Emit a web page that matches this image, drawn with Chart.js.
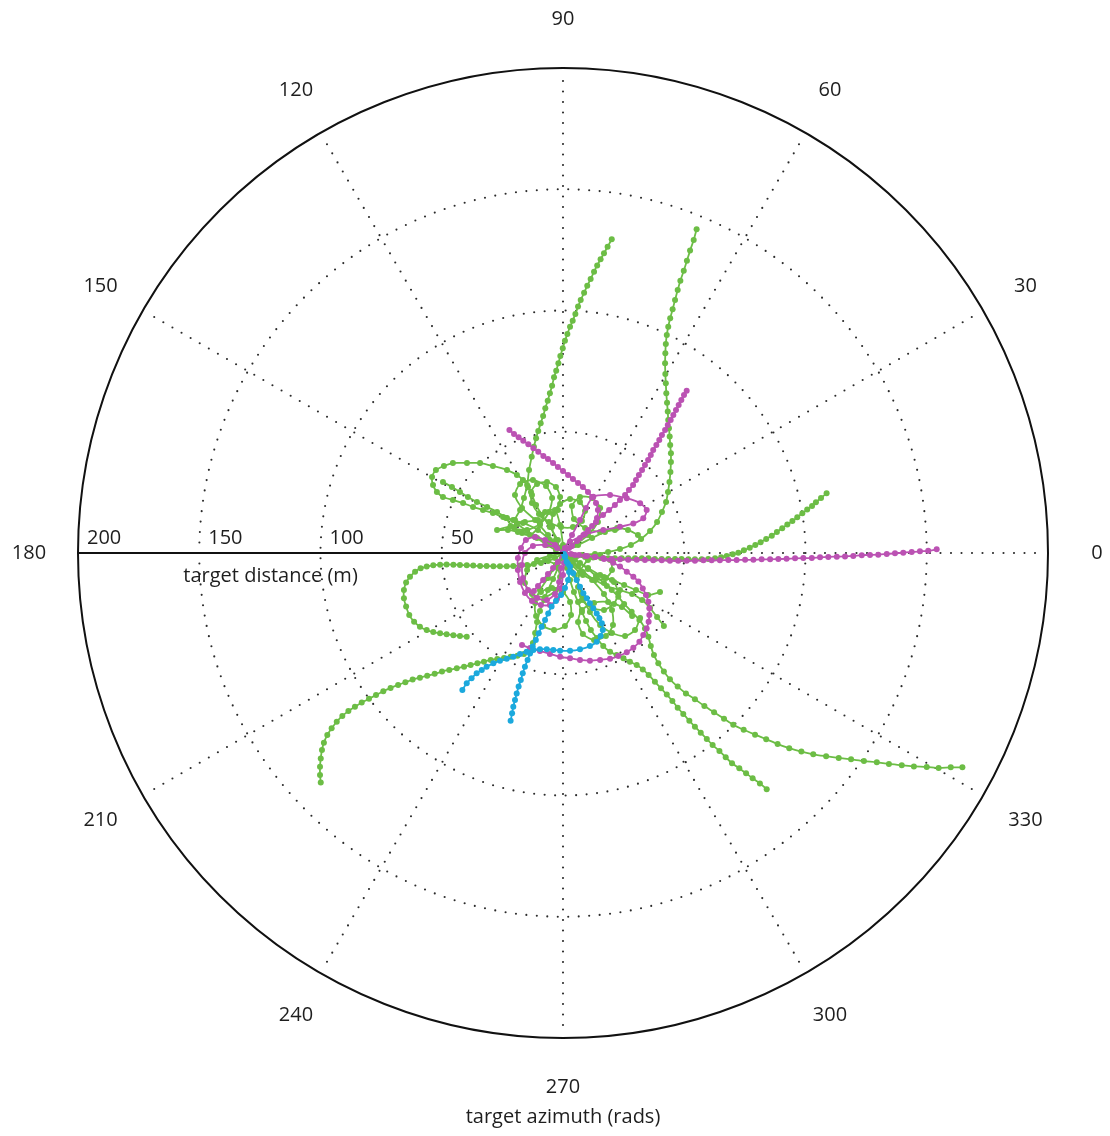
<!DOCTYPE html>
<html>
<head>
<meta charset="utf-8">
<script src="https://cdn.jsdelivr.net/npm/chart.js@4.4.1/dist/chart.umd.min.js"></script>
<style>
  html, body { margin: 0; padding: 0; background: #ffffff; }
  #wrap { width: 1110px; height: 1136px; }
</style>
</head>
<body>
<div id="wrap"><canvas id="polar" width="1110" height="1136"></canvas></div>
<script>
// Polar grid definition
const azimuthTicks = [0, 30, 60, 90, 120, 150, 180, 210, 240, 270, 300, 330];
const distanceTicks = [50, 100, 150, 200];
const maxDistance = 200;

// Tracks relative to the target: [east (m), north (m)]
const green1 = [[20.1,129.4],[18.4,126.3],[16.9,123.6],[15.5,121.1],[14.1,118.6],[12.8,116.0],[11.4,113.0],[10.0,110.2],[8.7,107.3],[7.3,104.3],[6.2,101.6],[5.1,98.6],[4.0,95.8],[2.9,93.3],[1.8,90.3],[0.8,87.5],[-0.1,84.4],[-1.1,81.2],[-1.9,78.2],[-2.8,75.2],[-3.7,72.5],[-4.5,69.0],[-5.4,65.9],[-6.3,62.8],[-7.3,59.7],[-8.2,56.5],[-9.2,53.5],[-10.2,50.3],[-11.1,47.3],[-12.0,43.8],[-12.9,39.7],[-14.0,34.2],[-14.8,28.0],[-16.1,22.7],[-17.7,17.7],[-19.8,13.6],[-18.6,8.7],[-13.6,7.4],[-9.5,11.5],[-7.4,16.9],[-3.3,17.7],[-1.2,11.5],[0.0,3.3]];
const green2 = [[55.1,133.5],[53.9,129.1],[52.4,124.7],[51.1,120.5],[49.8,116.4],[48.4,112.3],[47.3,108.5],[46.2,104.3],[45.2,100.5],[44.2,96.8],[43.4,93.3],[42.8,89.9],[42.4,86.2],[42.2,82.4],[42.1,78.2],[42.2,73.8],[42.4,70.0],[42.6,65.9],[42.9,62.0],[43.2,58.3],[43.4,54.8],[43.7,51.4],[44.0,48.0],[44.2,44.5],[44.5,41.1],[44.5,37.5],[44.3,33.4],[43.9,29.3],[43.3,25.2],[42.5,21.0],[40.8,16.9],[38.8,12.8],[35.9,9.1],[32.2,5.8],[28.0,3.3],[23.5,1.6],[18.6,0.4],[13.2,-0.4],[7.8,-0.8],[2.9,-0.8]];
const green3 = [[108.7,24.6],[106.4,22.7],[104.3,20.9],[102.7,19.4],[100.7,17.9],[98.7,16.4],[96.6,14.7],[94.6,13.2],[92.5,11.8],[90.4,10.2],[88.2,8.7],[86.1,7.1],[83.8,5.8],[81.5,4.4],[79.3,3.3],[77.0,2.2],[74.6,1.1],[72.3,0.1],[70.0,-0.5],[67.5,-1.2],[65.2,-1.8],[62.7,-2.2],[59.9,-2.5],[57.2,-2.6],[54.4,-2.6],[51.7,-2.6],[48.9,-2.5],[46.2,-2.5],[43.4,-2.5],[40.7,-2.5],[37.9,-2.5],[35.2,-2.2],[32.5,-2.2],[29.7,-2.2],[26.9,-2.2],[24.2,-2.2],[21.4,-2.2],[18.7,-2.2],[15.7,-2.1],[12.4,-1.9],[9.1,-1.6],[5.8,-1.2],[2.5,-0.8]];
const green4 = [[164.7,-88.4],[159.9,-88.4],[154.9,-88.7],[150.0,-88.2],[144.7,-88.0],[139.7,-87.5],[134.4,-87.0],[129.4,-86.3],[124.1,-85.8],[118.8,-85.1],[113.7,-84.5],[108.5,-83.8],[103.2,-83.0],[98.3,-81.9],[93.3,-80.5],[88.5,-78.8],[83.8,-76.8],[79.2,-74.9],[74.5,-72.9],[70.2,-70.8],[66.4,-68.3],[62.3,-65.7],[58.3,-63.1],[54.4,-60.3],[50.7,-57.9],[47.3,-55.1],[44.1,-52.1],[41.6,-48.9],[39.3,-45.5],[37.5,-42.1],[36.2,-38.4],[35.2,-34.5],[33.8,-31.1],[31.5,-27.6],[28.3,-24.2],[25.2,-21.0],[22.8,-18.0],[20.1,-15.3],[16.9,-12.4],[13.6,-9.5],[10.3,-6.6],[7.0,-4.1],[3.7,-2.1],[0.8,-0.4]];
const green5 = [[84.0,-97.4],[81.2,-95.0],[78.2,-92.9],[75.5,-90.8],[72.7,-88.8],[69.7,-86.7],[67.1,-84.2],[64.5,-81.6],[61.7,-79.2],[59.3,-76.7],[56.8,-74.1],[54.4,-71.6],[52.1,-69.2],[49.6,-66.4],[47.3,-63.8],[45.1,-61.0],[42.8,-58.4],[40.4,-55.8],[37.9,-53.1],[35.3,-50.3],[32.9,-48.0],[30.4,-46.2],[27.6,-44.8],[24.9,-43.4],[22.1,-42.1],[19.4,-40.7],[16.6,-38.4],[14.0,-35.1],[11.5,-31.8],[9.5,-28.0],[7.8,-24.3],[6.2,-20.2],[4.5,-16.1],[2.9,-11.1],[1.6,-6.2],[0.4,-1.6]];
const green6 = [[-99.9,-94.6],[-100.2,-91.5],[-100.2,-88.1],[-99.9,-84.7],[-99.4,-81.2],[-98.6,-78.2],[-97.2,-75.1],[-95.4,-72.3],[-93.3,-69.6],[-91.0,-67.2],[-88.5,-65.2],[-85.8,-63.4],[-83.0,-61.7],[-80.0,-60.1],[-77.1,-58.6],[-74.1,-57.0],[-71.1,-55.7],[-68.0,-54.4],[-65.0,-53.3],[-62.0,-52.2],[-59.0,-51.4],[-56.0,-50.6],[-52.9,-49.8],[-49.9,-48.9],[-46.9,-48.2],[-43.8,-47.5],[-40.8,-46.9],[-38.1,-46.2],[-35.3,-45.5],[-32.6,-44.8],[-29.8,-44.1],[-27.1,-43.7],[-24.3,-43.3],[-21.6,-42.8],[-18.8,-42.4],[-16.1,-41.6],[-13.6,-40.7],[-12.4,-37.1],[-11.5,-33.0],[-10.7,-28.5],[-9.5,-23.9],[-7.8,-19.4],[-6.2,-15.3],[-4.1,-10.7],[-2.1,-6.2],[-0.4,-2.1]];
const green7 = [[-39.7,-34.5],[-42.5,-34.2],[-45.2,-33.9],[-48.0,-33.5],[-50.7,-33.1],[-53.5,-32.6],[-56.2,-31.8],[-59.0,-30.4],[-61.4,-28.3],[-63.4,-25.6],[-64.7,-22.1],[-65.6,-18.7],[-65.6,-15.3],[-64.7,-12.2],[-63.1,-9.8],[-61.0,-7.7],[-58.7,-6.3],[-56.2,-5.6],[-53.5,-5.1],[-50.7,-4.8],[-48.0,-4.7],[-45.2,-4.8],[-42.5,-4.9],[-39.7,-5.1],[-37.0,-5.2],[-34.2,-5.4],[-31.5,-5.4],[-28.7,-5.5],[-26.0,-5.5],[-23.2,-5.5],[-20.5,-5.4],[-17.7,-5.2],[-14.8,-4.9],[-12.0,-4.5],[-9.1,-4.1],[-6.2,-3.3],[-3.3,-2.1],[-0.4,-0.4]];
const green8 = [[0.0,0.0],[-5.4,5.4],[-10.3,9.5],[-16.5,12.4],[-20.6,13.6],[-24.7,14.8],[-28.9,16.5],[-33.0,17.7],[-37.1,19.0],[-41.2,20.6],[-45.4,21.9],[-49.5,23.1],[-52.0,25.2],[-53.6,28.0],[-54.0,31.3],[-52.4,34.2],[-49.1,35.9],[-45.4,37.1],[-39.6,37.1],[-34.2,37.1],[-28.9,35.9],[-23.1,34.2],[-19.0,32.2],[-16.5,30.1],[-14.4,27.2],[-12.8,23.9],[-11.1,19.8],[-8.7,15.7],[-5.4,10.7],[-2.1,5.4]];
const green9 = [[-49.5,29.3],[-45.8,27.2],[-42.5,25.2],[-39.2,23.1],[-35.5,21.0],[-31.3,19.0],[-27.2,16.9],[-23.1,14.4],[-19.0,12.0],[-14.8,9.1],[-10.7,6.2],[-6.6,3.3],[-2.9,1.2]];
const green10 = [[-1.2,2.1],[-6.2,4.1],[-11.5,6.6],[-16.9,8.2],[-22.7,9.5],[-27.2,9.5],[-21.6,11.1],[-15.7,12.8],[-10.3,13.6]];
const green11 = [[0.0,0.0],[-2.9,5.4],[-4.5,10.7],[-4.1,16.1],[-1.2,20.2],[2.9,22.3],[7.0,21.0],[9.1,17.3],[7.8,13.2],[4.1,10.7],[-0.8,10.7],[-5.8,12.8],[-9.9,16.1],[-12.8,20.6],[-13.2,25.2],[-10.7,28.5],[-6.6,29.3],[-2.9,27.2],[-1.2,23.1],[-2.1,17.7]];
const green12 = [[0.0,0.0],[3.7,-4.9],[8.2,-9.1],[13.2,-11.1],[17.7,-10.3],[20.2,-7.0],[19.4,-2.9],[15.3,-0.8],[10.3,-2.9],[7.0,-7.8],[6.2,-14.0],[7.8,-19.4],[12.0,-22.7],[16.9,-23.5],[21.0,-21.0],[22.7,-16.5],[21.0,-12.0],[16.9,-9.9]];
const green13 = [[0.0,0.0],[-2.9,-4.9],[-6.2,-10.3],[-9.5,-15.3],[-11.5,-20.6],[-11.1,-26.0],[-8.2,-30.1],[-3.7,-31.8],[0.8,-30.1],[3.3,-25.6],[2.9,-20.2],[0.0,-16.1],[-4.5,-14.4],[-9.1,-16.1],[-12.4,-19.4]];
const green14 = [[0.8,1.2],[6.2,3.3],[12.0,6.2],[17.3,8.7],[22.3,10.3],[26.8,9.5],[30.9,7.4]];
const green15 = [[0.0,0.0],[4.9,-2.9],[10.3,-6.2],[15.3,-9.1],[20.2,-11.1],[25.2,-13.2],[30.1,-15.3],[35.1,-17.3],[40.0,-16.1]];
const green16 = [[0.0,0.0],[3.7,-3.7],[8.2,-7.8],[13.2,-11.1],[18.1,-13.6],[23.5,-15.3],[28.5,-16.9],[32.6,-19.4],[35.9,-22.7],[38.8,-26.4],[41.6,-30.1]];
const green17 = [[0.8,-1.2],[4.9,-9.1],[7.8,-17.3],[11.1,-24.3],[15.3,-29.7],[20.2,-33.0],[25.6,-34.2],[29.7,-31.8],[31.8,-26.8]];
const green18 = [[0.0,0.0],[-6.2,7.4],[-11.5,13.6],[-16.9,18.6],[-19.8,23.9],[-17.7,28.5],[-12.4,30.1],[-7.0,27.6],[-4.5,22.7],[-5.8,16.9],[-9.5,12.0],[-14.8,9.5],[-20.2,10.3],[-23.5,14.4]];
const green19 = [[0.0,0.0],[6.2,-5.4],[12.0,-11.1],[16.9,-16.9],[20.2,-23.5],[20.6,-29.7],[17.7,-34.2],[12.8,-35.9],[8.2,-33.4],[6.2,-28.5],[7.8,-23.5],[12.8,-20.6],[18.6,-20.2],[24.3,-22.3],[28.5,-26.0]];
const green20 = [[0.0,0.0],[-5.4,-1.2],[-10.7,-2.9],[-14.8,-7.0],[-15.7,-12.4],[-12.8,-16.9],[-7.4,-18.1],[-2.9,-15.3],[-1.2,-9.9],[-2.9,-4.9],[-7.4,-2.9]];
const green21 = [[0.0,0.0],[4.9,3.3],[10.3,7.4],[14.4,12.8],[15.3,18.6],[12.0,22.7],[7.0,23.1],[3.7,19.4],[4.5,14.0],[9.1,10.3],[15.3,8.7],[21.4,9.5]];

const magenta1 = [[154.1,1.5],[150.6,0.9],[147.2,0.7],[143.8,0.4],[140.3,0.1],[136.9,-0.1],[133.5,-0.4],[130.0,-0.7],[126.6,-0.8],[123.2,-0.9],[119.7,-1.2],[116.3,-1.4],[112.9,-1.5],[109.4,-1.6],[106.0,-1.8],[102.6,-2.1],[99.1,-2.1],[95.7,-2.2],[92.2,-2.4],[88.8,-2.5],[85.4,-2.6],[81.9,-2.6],[78.5,-2.8],[75.1,-2.8],[71.6,-2.9],[68.2,-2.9],[64.7,-3.0],[61.3,-3.0],[57.9,-3.0],[54.4,-3.2],[51.0,-3.2],[47.5,-3.2],[44.1,-3.2],[40.7,-3.0],[37.2,-3.0],[33.8,-2.9],[30.4,-2.8],[26.9,-2.8],[23.5,-2.6],[20.1,-2.5],[16.6,-2.2],[13.2,-1.6],[9.9,-1.2],[6.6,-0.8],[3.3,-0.4],[0.4,0.0]];
const magenta2 = [[51.0,66.9],[49.9,65.2],[48.8,63.1],[47.7,61.0],[46.6,59.0],[45.5,56.9],[44.4,54.8],[43.2,52.8],[42.1,50.7],[40.8,48.7],[39.7,46.6],[38.5,44.5],[37.2,42.5],[36.2,40.4],[35.1,38.4],[33.8,36.3],[32.6,34.2],[31.3,32.2],[30.1,30.1],[28.9,28.0],[27.2,26.0],[25.6,23.9],[23.5,21.9],[21.4,19.8],[19.0,17.7],[16.5,15.7],[13.6,12.8],[10.3,9.5],[7.0,6.2],[3.7,2.9],[0.8,0.4]];
const magenta3 = [[-22.1,50.7],[-20.2,49.1],[-18.3,47.7],[-16.4,46.3],[-14.3,44.8],[-12.2,43.2],[-10.2,41.8],[-8.1,40.0],[-6.2,38.8],[-4.1,37.1],[-2.1,35.5],[0.0,33.8],[2.1,32.2],[4.1,30.5],[6.2,28.9],[8.2,27.2],[10.3,25.2],[12.0,23.1],[13.6,20.6],[14.4,17.7],[14.0,14.4],[12.0,11.1],[9.1,7.8],[5.8,4.9],[2.5,2.1],[0.4,0.4],[-2.1,-3.7],[-4.1,-6.2],[-6.2,-8.7],[-8.2,-11.1],[-10.3,-13.6],[-12.0,-15.7]];
const magenta4 = [[0.8,0.0],[4.9,-0.8],[9.1,-1.2],[13.2,-1.6],[16.9,-2.5],[20.7,-4.0],[23.5,-5.6],[26.3,-7.7],[29.0,-9.8],[31.1,-11.8],[32.9,-14.6],[34.2,-17.3],[35.2,-20.1],[35.6,-22.8],[35.6,-25.6],[35.3,-28.3],[34.5,-31.1],[33.1,-33.8],[31.5,-36.6],[29.0,-39.1],[26.3,-40.9],[22.8,-42.5],[19.4,-43.6],[15.3,-44.1],[11.1,-44.4],[7.0,-44.1],[2.9,-43.4],[-1.2,-42.8],[-5.4,-41.6],[-9.5,-40.4],[-13.6,-39.2],[-16.9,-37.9]];
const magenta5 = [[0.0,0.0],[-3.3,3.3],[-7.4,5.4],[-11.5,6.6],[-15.3,5.4],[-17.3,2.1],[-18.6,-2.1],[-18.6,-7.0],[-17.7,-12.0],[-15.7,-16.5],[-12.8,-19.8],[-9.1,-21.4],[-5.4,-21.4],[-2.5,-19.0],[-0.8,-14.4],[0.0,-9.1],[0.4,-4.1]];
const magenta6 = [[0.8,2.1],[3.7,7.4],[7.0,13.6],[9.5,18.6],[12.5,23.2],[19.4,23.9],[26.3,22.6],[31.8,20.5],[34.5,17.7],[33.1,14.3],[29.0,12.2],[23.5,10.8],[16.6,9.5],[8.4,7.4],[2.9,4.7]];
const magenta7 = [[0.0,0.0],[-2.5,2.1],[-7.4,3.3],[-12.4,2.9],[-15.7,0.0],[-16.9,-4.9],[-16.5,-10.3],[-14.4,-15.3],[-10.7,-18.6],[-6.6,-19.4],[-3.3,-16.9],[-1.6,-12.0],[-0.8,-6.2]];

const cyan1 = [[0.4,-0.4],[0.8,-1.6],[1.5,-3.6],[2.9,-5.6],[4.2,-8.4],[5.6,-11.1],[7.0,-13.9],[8.4,-16.6],[9.8,-18.7],[11.1,-20.7],[12.5,-22.8],[13.9,-24.9],[15.0,-26.9],[16.0,-29.0],[16.4,-31.8],[15.5,-34.2],[13.9,-36.6],[11.1,-38.4],[7.0,-39.7],[2.9,-40.3],[-1.2,-40.3],[-4.0,-40.0],[-6.7,-39.7],[-9.5,-39.7],[-12.2,-40.0],[-15.0,-40.7],[-17.7,-41.6],[-20.5,-42.8],[-23.2,-43.6],[-26.0,-44.4],[-28.7,-45.5],[-31.5,-46.9],[-33.5,-48.2],[-35.6,-49.6],[-37.7,-51.7],[-39.7,-53.7],[-41.5,-56.5]];
const cyan2 = [[0.8,-1.2],[2.1,-4.5],[2.5,-7.8],[2.1,-11.1],[0.8,-14.4],[-0.8,-17.3],[-2.9,-19.8],[-4.7,-22.1],[-6.1,-24.9],[-7.4,-27.6],[-8.8,-30.4],[-10.0,-33.1],[-11.2,-35.9],[-12.5,-38.6],[-13.6,-41.4],[-14.6,-44.1],[-15.7,-46.9],[-16.6,-49.6],[-17.4,-52.4],[-18.3,-55.1],[-19.1,-57.9],[-19.8,-60.6],[-20.5,-63.4],[-21.0,-66.1],[-21.6,-69.2]];

const greenTracks = [green1, green2, green3, green4, green5, green6, green7, green8, green9, green10, green11, green12, green13, green14, green15, green16, green17, green18, green19, green20, green21];
const magentaTracks = [magenta1, magenta2, magenta3, magenta4, magenta5, magenta6, magenta7];
const cyanTracks = [cyan1, cyan2];

const GREEN = '#6cbd45';
const MAGENTA = '#bb52b3';
const CYAN = '#1ba9dd';
const FONT = '"Open Sans", "Noto Sans", sans-serif';

// layer: higher numbers are painted first (underneath)
function trackDataset(track, color, layer) {
  return {
    data: track.map(([e, n]) => ({ x: e, y: n })),
    showLine: true,
    borderColor: color,
    backgroundColor: color,
    borderWidth: 1.8,
    pointRadius: 3,
    pointBorderWidth: 0,
    pointBackgroundColor: color,
    tension: 0.25,
    order: layer
  };
}

const datasets = [
  ...greenTracks.map(t => trackDataset(t, GREEN, 3)),
  ...magentaTracks.map(t => trackDataset(t, MAGENTA, 2)),
  ...cyanTracks.map(t => trackDataset(t, CYAN, 1))
];

// Grid rings, spokes and labels drawn around the scatter scales
const polarFrame = {
  id: 'polarFrame',
  beforeDatasetsDraw(chart) {
    const { ctx, scales: { x, y } } = chart;
    const cx = x.getPixelForValue(0), cy = y.getPixelForValue(0);
    const R = x.getPixelForValue(maxDistance) - cx;
    ctx.save();
    ctx.fillStyle = '#2a2a2a';
    const dot = (px, py) => { ctx.beginPath(); ctx.arc(px, py, 1.05, 0, Math.PI * 2); ctx.fill(); };
    // dotted distance rings
    distanceTicks.filter(d => d < maxDistance).forEach(d => {
      const r = x.getPixelForValue(d) - cx;
      const n = Math.round(2 * Math.PI * r / 10.5);
      for (let i = 0; i < n; i++) {
        const a = i / n * Math.PI * 2;
        dot(cx + r * Math.cos(a), cy - r * Math.sin(a));
      }
    });
    // dotted azimuth spokes
    azimuthTicks.filter(a => a !== 180).forEach(a => {
      const t = a * Math.PI / 180;
      for (let r = 10; r < R - 3; r += 10.5) {
        dot(cx + r * Math.cos(t), cy - r * Math.sin(t));
      }
    });
    // outer ring
    ctx.strokeStyle = '#111';
    ctx.lineWidth = 2;
    ctx.beginPath();
    ctx.arc(cx, cy, R, 0, Math.PI * 2);
    ctx.stroke();
    ctx.restore();
  },
  afterDatasetsDraw(chart) {
    const { ctx, scales: { x, y } } = chart;
    const cx = x.getPixelForValue(0), cy = y.getPixelForValue(0);
    const R = x.getPixelForValue(maxDistance) - cx;
    ctx.save();
    // solid distance axis along 180
    ctx.strokeStyle = '#111';
    ctx.lineWidth = 2;
    ctx.beginPath();
    ctx.moveTo(cx - R, cy);
    ctx.lineTo(cx, cy);
    ctx.stroke();

    ctx.fillStyle = '#1e1e1e';
    ctx.font = '20px ' + FONT;
    // distance labels along the axis
    ctx.textAlign = 'left';
    ctx.textBaseline = 'alphabetic';
    distanceTicks.forEach(d => {
      const px = cx - (x.getPixelForValue(d) - cx);
      ctx.fillText(String(d), px + 9, cy - 9);
    });
    ctx.textAlign = 'center';
    ctx.fillText('target distance (m)', cx - R * 0.603, cy + 29);

    // azimuth labels
    ctx.textBaseline = 'middle';
    const L = R + 49;
    azimuthTicks.forEach(a => {
      const t = a * Math.PI / 180;
      ctx.fillText(String(a), cx + L * Math.cos(t), cy - L * Math.sin(t));
    });
    ctx.fillText('target azimuth (rads)', cx, cy + L + 30);
    ctx.restore();
  }
};

new Chart(document.getElementById('polar'), {
  type: 'scatter',
  data: { datasets },
  options: {
    responsive: false,
    animation: false,
    layout: { padding: { left: 78, right: 62, top: 68, bottom: 98 } },
    scales: {
      x: { type: 'linear', min: -maxDistance, max: maxDistance, display: false },
      y: { type: 'linear', min: -maxDistance, max: maxDistance, display: false }
    },
    plugins: { legend: { display: false }, tooltip: { enabled: false } }
  },
  plugins: [polarFrame]
});
</script>
</body>
</html>
